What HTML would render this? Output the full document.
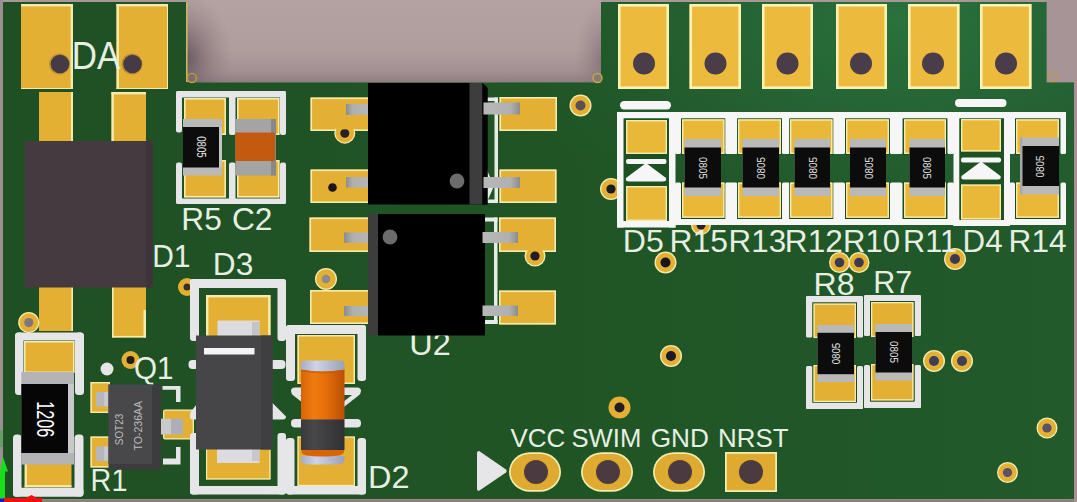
<!DOCTYPE html>
<html><head><meta charset="utf-8"><style>
html,body{margin:0;padding:0;background:#a8989a;}
svg{display:block}
text{font-family:"Liberation Sans",sans-serif;}
</style></head><body>
<svg width="1077" height="502" viewBox="0 0 1077 502">
<defs>
<linearGradient id="bgv" x1="0" y1="0" x2="0" y2="1"><stop offset="0" stop-color="#b4a1a1"/><stop offset="0.6" stop-color="#b09d9e"/><stop offset="0.85" stop-color="#a39092"/><stop offset="1" stop-color="#8c7a7f"/></linearGradient>
<radialGradient id="bgh" gradientUnits="userSpaceOnUse" cx="182" cy="58" r="1" gradientTransform="translate(182,58) scale(52,66) translate(-182,-58)"><stop offset="0" stop-color="#584854" stop-opacity="0.9"/><stop offset="0.4" stop-color="#68585f" stop-opacity="0.5"/><stop offset="1" stop-color="#8d7c80" stop-opacity="0"/></radialGradient>
<radialGradient id="bgr" gradientUnits="userSpaceOnUse" cx="604" cy="60" r="1" gradientTransform="translate(604,60) scale(30,60) translate(-604,-60)"><stop offset="0" stop-color="#6a5a64" stop-opacity="0.6"/><stop offset="1" stop-color="#8d7c80" stop-opacity="0"/></radialGradient>
<linearGradient id="brd" x1="0" y1="0" x2="1" y2="0"><stop offset="0" stop-color="#1f5024"/><stop offset="0.5" stop-color="#205425"/><stop offset="1" stop-color="#225a2b"/></linearGradient>
<radialGradient id="hl" gradientUnits="userSpaceOnUse" cx="900" cy="20" r="1" gradientTransform="translate(900,20) scale(420,230) translate(-900,-20)"><stop offset="0" stop-color="#2c7a44" stop-opacity="0.75"/><stop offset="0.45" stop-color="#2a7040" stop-opacity="0.45"/><stop offset="1" stop-color="#246030" stop-opacity="0"/></radialGradient>
<linearGradient id="melf" x1="0" y1="0" x2="1" y2="0"><stop offset="0" stop-color="#d86408"/><stop offset="0.3" stop-color="#f07c10"/><stop offset="0.6" stop-color="#e46c08"/><stop offset="1" stop-color="#b85004"/></linearGradient>
<linearGradient id="melfd" x1="0" y1="0" x2="1" y2="0"><stop offset="0" stop-color="#3a3a3c"/><stop offset="0.3" stop-color="#48484a"/><stop offset="1" stop-color="#303032"/></linearGradient>
<linearGradient id="cap" x1="0" y1="0" x2="1" y2="0"><stop offset="0" stop-color="#a8acc4"/><stop offset="0.35" stop-color="#cfd3e8"/><stop offset="1" stop-color="#9ca0b8"/></linearGradient>
<linearGradient id="lead" x1="0" y1="0" x2="1" y2="0"><stop offset="0" stop-color="#b8b8b8"/><stop offset="0.75" stop-color="#b0b0b0"/><stop offset="1" stop-color="#8c8c8c"/></linearGradient>
<linearGradient id="leadL" x1="1" y1="0" x2="0" y2="0"><stop offset="0" stop-color="#b8b8b8"/><stop offset="0.75" stop-color="#b0b0b0"/><stop offset="1" stop-color="#8c8c8c"/></linearGradient>
</defs>
<rect x="0.00" y="0.00" width="1077.00" height="502.00" fill="#a89898" />
<rect x="187.00" y="0.00" width="415.00" height="84.00" fill="url(#bgv)" />
<rect x="187.00" y="0.00" width="415.00" height="84.00" fill="url(#bgh)" />
<rect x="187.00" y="0.00" width="415.00" height="84.00" fill="url(#bgr)" />
<rect x="1046.00" y="0.00" width="31.00" height="84.00" fill="#a69496" />
<path d="M3,2 H187 V82.5 H601 V2 H1046.5 V82.5 H1074 V499 H3 Z" fill="url(#brd)"/>
<path d="M3,2 H187 V82.5 H601 V2 H1046.5 V82.5 H1074 V499 H3 Z" fill="url(#hl)"/>
<rect x="186.00" y="2.00" width="1.60" height="80.00" fill="#c8b860" />
<circle cx="192" cy="78" r="4.5" fill="none" stroke="#b89a30" stroke-width="1.6"/>
<circle cx="597.5" cy="78" r="4.5" fill="#8a7a70" stroke="#c0a850" stroke-width="1.4"/>
<circle cx="1053" cy="77" r="4.5" fill="none" stroke="#b89a50" stroke-width="1.3"/>
<rect x="0.00" y="499.50" width="1077.00" height="2.50" fill="#8a7f78" />
<rect x="0.00" y="0.00" width="3.00" height="502.00" fill="#9a9090" />
<rect x="1074.00" y="82.00" width="3.00" height="420.00" fill="#a89098" />
<rect x="21.00" y="4.00" width="52.00" height="85.00" fill="#e3b033" />
<rect x="21.00" y="4.00" width="52.00" height="2.40" fill="#f3ecae" />
<rect x="70.60" y="4.00" width="2.40" height="85.00" fill="#f3ecae" />
<rect x="116.50" y="4.00" width="51.50" height="85.00" fill="#e3b033" />
<rect x="116.50" y="4.00" width="51.50" height="2.40" fill="#f3ecae" />
<rect x="116.50" y="4.00" width="2.40" height="85.00" fill="#f3ecae" />
<rect x="21.00" y="88.00" width="52.00" height="1.00" fill="#f3ecae" />
<rect x="116.50" y="88.00" width="51.50" height="1.00" fill="#f3ecae" />
<rect x="167.00" y="4.00" width="1.00" height="85.00" fill="#f3ecae" />
<circle cx="59.5" cy="64" r="10.5" fill="#b89030"/>
<circle cx="60.0" cy="64" r="9.3" fill="#473a47"/>
<circle cx="132" cy="64" r="10.5" fill="#b89030"/>
<circle cx="132.5" cy="64" r="9.3" fill="#473a47"/>
<rect x="39.00" y="92.00" width="34.00" height="49.00" fill="#e3b033" />
<rect x="71.00" y="92.00" width="2.00" height="49.00" fill="#f3ecae" />
<rect x="111.50" y="92.00" width="34.50" height="49.00" fill="#e3b033" />
<rect x="111.50" y="92.00" width="34.50" height="2.40" fill="#f3ecae" />
<rect x="111.50" y="92.00" width="2.40" height="49.00" fill="#f3ecae" />
<rect x="39.00" y="287.00" width="34.00" height="44.00" fill="#e3b033" />
<rect x="71.40" y="287.00" width="1.60" height="44.00" fill="#f3ecae" />
<rect x="112.00" y="287.00" width="34.00" height="50.50" fill="#e3b033" />
<rect x="112.00" y="335.90" width="34.00" height="1.60" fill="#f3ecae" />
<rect x="112.00" y="287.00" width="1.60" height="50.50" fill="#f3ecae" />
<rect x="143.50" y="310.00" width="2.50" height="27.50" fill="#f3ecae" />
<rect x="24.50" y="141.00" width="128.50" height="146.50" fill="#453a3f" />
<rect x="146.00" y="141.00" width="7.00" height="146.50" fill="#3f3439" />
<rect x="618.00" y="4.00" width="51.00" height="85.00" fill="#ecba3c" />
<rect x="618.00" y="4.00" width="51.00" height="85.00" fill="#f8f2b4" />
<rect x="620.60" y="6.60" width="45.80" height="79.80" fill="#ecba3c" />
<circle cx="644" cy="63.5" r="11" fill="#4a3c48"/>
<rect x="689.50" y="4.00" width="51.50" height="85.00" fill="#ecba3c" />
<rect x="689.50" y="4.00" width="51.50" height="85.00" fill="#f8f2b4" />
<rect x="692.10" y="6.60" width="46.30" height="79.80" fill="#ecba3c" />
<circle cx="715.5" cy="63.5" r="11" fill="#4a3c48"/>
<rect x="762.00" y="4.00" width="51.00" height="85.00" fill="#ecba3c" />
<rect x="762.00" y="4.00" width="51.00" height="85.00" fill="#f8f2b4" />
<rect x="764.60" y="6.60" width="45.80" height="79.80" fill="#ecba3c" />
<circle cx="787.5" cy="63.5" r="11" fill="#4a3c48"/>
<rect x="836.00" y="4.00" width="51.00" height="85.00" fill="#ecba3c" />
<rect x="836.00" y="4.00" width="51.00" height="85.00" fill="#f8f2b4" />
<rect x="838.60" y="6.60" width="45.80" height="79.80" fill="#ecba3c" />
<circle cx="861" cy="63.5" r="11" fill="#4a3c48"/>
<rect x="908.00" y="4.00" width="51.50" height="85.00" fill="#ecba3c" />
<rect x="908.00" y="4.00" width="51.50" height="85.00" fill="#f8f2b4" />
<rect x="910.60" y="6.60" width="46.30" height="79.80" fill="#ecba3c" />
<circle cx="933" cy="63.5" r="11" fill="#4a3c48"/>
<rect x="980.00" y="4.00" width="51.50" height="85.00" fill="#ecba3c" />
<rect x="980.00" y="4.00" width="51.50" height="85.00" fill="#f8f2b4" />
<rect x="982.60" y="6.60" width="46.30" height="79.80" fill="#ecba3c" />
<circle cx="1006" cy="63.5" r="11" fill="#4a3c48"/>
<circle cx="28.8" cy="322.6" r="10.6" fill="#f3ecae"/>
<circle cx="28.8" cy="322.6" r="9.299999999999999" fill="#e3b033"/>
<circle cx="28.8" cy="322.6" r="4.6" fill="#80767e"/>
<circle cx="130.5" cy="360" r="9" fill="#e3b033"/>
<circle cx="130.5" cy="360" r="4" fill="#221c1c"/>
<circle cx="187" cy="287" r="9" fill="#e3b033"/>
<circle cx="187" cy="287" r="3.5" fill="#3a3020"/>
<circle cx="326" cy="279" r="11" fill="#f3ecae"/>
<circle cx="326" cy="279" r="9.7" fill="#e3b033"/>
<circle cx="326" cy="279" r="4.2" fill="#8a8890"/>
<circle cx="580.5" cy="105.5" r="11" fill="#f3ecae"/>
<circle cx="580.5" cy="105.5" r="9.7" fill="#e3b033"/>
<circle cx="580.5" cy="105.5" r="5" fill="#5a5058"/>
<circle cx="611" cy="189" r="11" fill="#f3ecae"/>
<circle cx="611" cy="189" r="9.7" fill="#e3b033"/>
<circle cx="611" cy="189" r="4.6" fill="#1a1a22"/>
<circle cx="665.5" cy="262.5" r="11" fill="#f3ecae"/>
<circle cx="665.5" cy="262.5" r="9.7" fill="#e3b033"/>
<circle cx="665.5" cy="262.5" r="5" fill="#16161e"/>
<circle cx="701" cy="225" r="10" fill="#f3ecae"/>
<circle cx="701" cy="225" r="8.7" fill="#e3b033"/>
<circle cx="701" cy="225" r="4.5" fill="#222230"/>
<circle cx="839.5" cy="262.5" r="10.5" fill="#f3ecae"/>
<circle cx="839.5" cy="262.5" r="9.2" fill="#e3b033"/>
<circle cx="839.5" cy="262.5" r="4.8" fill="#3a3a55"/>
<circle cx="859" cy="262.5" r="10.5" fill="#f3ecae"/>
<circle cx="859" cy="262.5" r="9.2" fill="#e3b033"/>
<circle cx="859" cy="262.5" r="4.8" fill="#3a3a55"/>
<circle cx="955" cy="259" r="11" fill="#f3ecae"/>
<circle cx="955" cy="259" r="9.7" fill="#e3b033"/>
<circle cx="955" cy="259" r="5" fill="#3a3a55"/>
<circle cx="934" cy="361" r="11" fill="#f3ecae"/>
<circle cx="934" cy="361" r="9.7" fill="#e3b033"/>
<circle cx="934" cy="361" r="5" fill="#3e3e58"/>
<circle cx="962" cy="361" r="11" fill="#f3ecae"/>
<circle cx="962" cy="361" r="9.7" fill="#e3b033"/>
<circle cx="962" cy="361" r="5" fill="#3e3e58"/>
<circle cx="671" cy="356" r="11" fill="#f3ecae"/>
<circle cx="671" cy="356" r="9.7" fill="#e3b033"/>
<circle cx="671" cy="356" r="5" fill="#1c1a2a"/>
<circle cx="619.5" cy="407.5" r="11" fill="#e3b033"/>
<circle cx="619.5" cy="407.5" r="5" fill="#221c2a"/>
<circle cx="1047" cy="428" r="10.5" fill="#f3ecae"/>
<circle cx="1047" cy="428" r="9.2" fill="#e3b033"/>
<circle cx="1047" cy="428" r="4.6" fill="#5a5068"/>
<circle cx="1007.5" cy="472.5" r="10.5" fill="#f3ecae"/>
<circle cx="1007.5" cy="472.5" r="9.2" fill="#e3b033"/>
<circle cx="1007.5" cy="472.5" r="4.6" fill="#5a5068"/>
<rect x="184.00" y="98.00" width="42.00" height="37.00" fill="#e3b033" />
<rect x="184.00" y="98.00" width="42.00" height="37.00" fill="#f3ecae" />
<rect x="185.60" y="99.60" width="38.80" height="33.80" fill="#e3b033" />
<rect x="237.00" y="98.00" width="42.50" height="37.00" fill="#e3b033" />
<rect x="237.00" y="98.00" width="42.50" height="37.00" fill="#f3ecae" />
<rect x="238.60" y="99.60" width="39.30" height="33.80" fill="#e3b033" />
<rect x="184.00" y="160.00" width="42.00" height="37.50" fill="#e3b033" />
<rect x="184.00" y="160.00" width="42.00" height="37.50" fill="#f3ecae" />
<rect x="185.60" y="161.60" width="38.80" height="34.30" fill="#e3b033" />
<rect x="237.00" y="160.00" width="42.50" height="37.50" fill="#e3b033" />
<rect x="237.00" y="160.00" width="42.50" height="37.50" fill="#f3ecae" />
<rect x="238.60" y="161.60" width="39.30" height="34.30" fill="#e3b033" />
<rect x="176" y="91" width="110" height="6.5" fill="#e6e6e8" rx="2"/>
<rect x="176" y="91" width="6" height="41.5" fill="#e6e6e8" rx="2"/>
<rect x="229" y="91" width="6.5" height="44" fill="#e6e6e8" rx="2"/>
<rect x="280" y="91" width="6" height="44" fill="#e6e6e8" rx="2"/>
<rect x="176" y="162.5" width="6" height="41.5" fill="#e6e6e8" rx="2"/>
<rect x="229" y="162.5" width="6.5" height="41.5" fill="#e6e6e8" rx="2"/>
<rect x="280" y="162.5" width="6" height="41.5" fill="#e6e6e8" rx="2"/>
<rect x="176" y="198.5" width="110" height="5.5" fill="#e6e6e8" rx="2"/>
<rect x="183.00" y="119.00" width="39.00" height="56.50" fill="#b9b9b9" />
<rect x="183.00" y="127.00" width="36.00" height="40.50" fill="#0c0c0c" />
<rect x="219.00" y="127.00" width="3.00" height="40.50" fill="#c4c4c4" />
<text transform="translate(201.5,147) rotate(90)" x="-10.75" y="4.50" font-size="12.5" fill="#e8e8e8" textLength="21.5" lengthAdjust="spacingAndGlyphs">0805</text>
<rect x="235.50" y="119.00" width="40.50" height="56.50" fill="#a4a4a4" />
<rect x="271.00" y="119.00" width="5.00" height="56.50" fill="#888888" />
<rect x="235.50" y="132.50" width="39.50" height="28.50" fill="#c45a10" />
<text x="181.3" y="230.4" font-size="31" fill="#e6efe2" textLength="40.5" lengthAdjust="spacingAndGlyphs" >R5</text>
<text x="232" y="230.4" font-size="31" fill="#e6efe2" textLength="40.5" lengthAdjust="spacingAndGlyphs" >C2</text>
<rect x="310.50" y="97.50" width="61.50" height="33.50" fill="#e3b033" />
<rect x="310.50" y="97.50" width="61.50" height="33.50" fill="#f3ecae" />
<rect x="312.10" y="99.10" width="58.30" height="30.30" fill="#e3b033" />
<circle cx="344.8" cy="133.2" r="10.5" fill="#f3ecae"/>
<circle cx="344.8" cy="133.2" r="9.2" fill="#e3b033"/>
<circle cx="344.8" cy="133.2" r="4.5" fill="#2a2028"/>
<rect x="335.60" y="120.00" width="18.40" height="9.40" fill="#e3b033" />
<rect x="310.50" y="169.50" width="61.50" height="33.50" fill="#e3b033" />
<rect x="310.50" y="169.50" width="61.50" height="33.50" fill="#f3ecae" />
<rect x="312.10" y="171.10" width="58.30" height="30.30" fill="#e3b033" />
<circle cx="332.5" cy="187.5" r="4.3" fill="#1c1418"/>
<rect x="309.50" y="217.50" width="70.50" height="34.50" fill="#e3b033" />
<rect x="309.50" y="217.50" width="70.50" height="34.50" fill="#f3ecae" />
<rect x="311.10" y="219.10" width="67.30" height="31.30" fill="#e3b033" />
<rect x="310.00" y="290.00" width="70.00" height="34.00" fill="#e3b033" />
<rect x="310.00" y="290.00" width="70.00" height="34.00" fill="#f3ecae" />
<rect x="311.60" y="291.60" width="66.80" height="30.80" fill="#e3b033" />
<rect x="499.50" y="97.00" width="57.50" height="34.00" fill="#e3b033" />
<rect x="499.50" y="97.00" width="57.50" height="34.00" fill="#f3ecae" />
<rect x="501.10" y="98.60" width="54.30" height="30.80" fill="#e3b033" />
<rect x="499.50" y="169.50" width="57.00" height="33.50" fill="#e3b033" />
<rect x="499.50" y="169.50" width="57.00" height="33.50" fill="#f3ecae" />
<rect x="501.10" y="171.10" width="53.80" height="30.30" fill="#e3b033" />
<rect x="499.00" y="217.50" width="57.00" height="34.50" fill="#e3b033" />
<rect x="499.00" y="217.50" width="57.00" height="34.50" fill="#f3ecae" />
<rect x="500.60" y="219.10" width="53.80" height="31.30" fill="#e3b033" />
<circle cx="535" cy="256" r="10.5" fill="#f3ecae"/>
<circle cx="535" cy="256" r="9.2" fill="#e3b033"/>
<circle cx="535" cy="256" r="4.6" fill="#241c28"/>
<rect x="526.00" y="240.00" width="18.00" height="10.40" fill="#e3b033" />
<rect x="499.00" y="290.50" width="57.00" height="34.00" fill="#e3b033" />
<rect x="499.00" y="290.50" width="57.00" height="34.00" fill="#f3ecae" />
<rect x="500.60" y="292.10" width="53.80" height="30.80" fill="#e3b033" />
<rect x="494.50" y="97.50" width="3.50" height="105.50" fill="#e8ece8" />
<rect x="486.00" y="97.50" width="12.00" height="3.50" fill="#e8ece8" />
<rect x="486.00" y="199.50" width="12.00" height="3.50" fill="#e8ece8" />
<rect x="494.00" y="217.50" width="3.50" height="106.50" fill="#e8ece8" />
<rect x="484.00" y="217.50" width="13.50" height="4.00" fill="#e8ece8" />
<rect x="484.00" y="320.00" width="13.50" height="4.00" fill="#e8ece8" />
<path d="M487,170 L494,186 L487,202 Z" fill="#e8ece8"/>
<rect x="346.00" y="104.00" width="26.00" height="11.00" fill="url(#leadL)" />
<rect x="346.00" y="177.00" width="26.00" height="10.50" fill="url(#leadL)" />
<rect x="344.00" y="232.50" width="36.00" height="10.50" fill="url(#leadL)" />
<rect x="344.00" y="306.00" width="36.00" height="10.00" fill="url(#leadL)" />
<rect x="368.00" y="83.00" width="119.50" height="121.50" fill="#000" />
<rect x="469.50" y="83.00" width="13.00" height="121.50" fill="#3d3d3d" />
<path d="M482.5,83 L487.5,88 V204.5 H482.5 Z" fill="#050505"/>
<path d="M482.5,83 H488 V88 Z" fill="#205424"/>
<circle cx="457" cy="181" r="7.4" fill="#6c6c6c"/>
<rect x="368.00" y="214.00" width="117.00" height="121.00" fill="#000" />
<rect x="368.00" y="214.00" width="10.00" height="121.00" fill="#3d3d3d" />
<circle cx="390" cy="237" r="7.4" fill="#6c6c6c"/>
<rect x="483.50" y="102.50" width="36.50" height="12.00" fill="url(#lead)" />
<rect x="483.50" y="177.00" width="36.50" height="11.00" fill="url(#lead)" />
<rect x="482.50" y="232.00" width="35.50" height="11.00" fill="url(#lead)" />
<rect x="482.50" y="305.50" width="35.50" height="10.50" fill="url(#lead)" />
<text x="409.3" y="355.2" font-size="31" fill="#e6efe2" textLength="41.5" lengthAdjust="spacingAndGlyphs" >U2</text>
<rect x="378.00" y="326.00" width="107.00" height="9.50" fill="#000" />
<rect x="675" y="112" width="6" height="42" fill="#f6f6f6" rx="1.5"/>
<rect x="675" y="182.5" width="6" height="42.5" fill="#f6f6f6" rx="1.5"/>
<rect x="725" y="112" width="12.5" height="42" fill="#f6f6f6" rx="1.5"/>
<rect x="725" y="182.5" width="12.5" height="42.5" fill="#f6f6f6" rx="1.5"/>
<rect x="782" y="112" width="8" height="42" fill="#f6f6f6" rx="1.5"/>
<rect x="782" y="182.5" width="8" height="42.5" fill="#f6f6f6" rx="1.5"/>
<rect x="832.5" y="112" width="12.5" height="42" fill="#f6f6f6" rx="1.5"/>
<rect x="832.5" y="182.5" width="12.5" height="42.5" fill="#f6f6f6" rx="1.5"/>
<rect x="890" y="112" width="12.5" height="42" fill="#f6f6f6" rx="1.5"/>
<rect x="890" y="182.5" width="12.5" height="42.5" fill="#f6f6f6" rx="1.5"/>
<rect x="947.5" y="112" width="6.5" height="42" fill="#f6f6f6" rx="1.5"/>
<rect x="947.5" y="182.5" width="6.5" height="42.5" fill="#f6f6f6" rx="1.5"/>
<rect x="1009.5" y="112" width="5.5" height="42" fill="#f6f6f6" rx="1.5"/>
<rect x="1009.5" y="182.5" width="5.5" height="42.5" fill="#f6f6f6" rx="1.5"/>
<rect x="1060.5" y="112" width="5.5" height="42" fill="#f6f6f6" rx="1.5"/>
<rect x="1060.5" y="182.5" width="5.5" height="42.5" fill="#f6f6f6" rx="1.5"/>
<rect x="617.00" y="112.00" width="6.50" height="115.50" fill="#f6f6f6" />
<rect x="669.00" y="112.00" width="6.50" height="115.50" fill="#f6f6f6" />
<rect x="953.50" y="112.00" width="6.00" height="114.00" fill="#f6f6f6" />
<rect x="1004.00" y="112.00" width="6.00" height="114.00" fill="#f6f6f6" />
<rect x="617.00" y="112.00" width="449.00" height="6.50" fill="#f6f6f6" />
<rect x="675.00" y="219.00" width="391.00" height="6.00" fill="#f6f6f6" />
<rect x="617.00" y="221.00" width="58.50" height="6.50" fill="#f6f6f6" />
<rect x="953.50" y="220.00" width="56.50" height="6.00" fill="#f6f6f6" />
<rect x="681.20" y="118.50" width="44.10" height="36.50" fill="#1b4a20" />
<rect x="681.20" y="181.50" width="44.10" height="37.50" fill="#1b4a20" />
<rect x="682.00" y="119.30" width="42.50" height="34.70" fill="#eab838" />
<rect x="682.00" y="119.30" width="42.50" height="34.70" fill="#f3ecae" />
<rect x="683.40" y="120.70" width="39.70" height="31.90" fill="#eab838" />
<rect x="682.00" y="182.50" width="42.50" height="35.30" fill="#eab838" />
<rect x="682.00" y="182.50" width="42.50" height="35.30" fill="#f3ecae" />
<rect x="683.40" y="183.90" width="39.70" height="32.50" fill="#eab838" />
<rect x="737.20" y="118.50" width="44.60" height="36.50" fill="#1b4a20" />
<rect x="737.20" y="181.50" width="44.60" height="37.50" fill="#1b4a20" />
<rect x="738.00" y="119.30" width="43.00" height="34.70" fill="#eab838" />
<rect x="738.00" y="119.30" width="43.00" height="34.70" fill="#f3ecae" />
<rect x="739.40" y="120.70" width="40.20" height="31.90" fill="#eab838" />
<rect x="738.00" y="182.50" width="43.00" height="35.30" fill="#eab838" />
<rect x="738.00" y="182.50" width="43.00" height="35.30" fill="#f3ecae" />
<rect x="739.40" y="183.90" width="40.20" height="32.50" fill="#eab838" />
<rect x="789.20" y="118.50" width="44.10" height="36.50" fill="#1b4a20" />
<rect x="789.20" y="181.50" width="44.10" height="37.50" fill="#1b4a20" />
<rect x="790.00" y="119.30" width="42.50" height="34.70" fill="#eab838" />
<rect x="790.00" y="119.30" width="42.50" height="34.70" fill="#f3ecae" />
<rect x="791.40" y="120.70" width="39.70" height="31.90" fill="#eab838" />
<rect x="790.00" y="182.50" width="42.50" height="35.30" fill="#eab838" />
<rect x="790.00" y="182.50" width="42.50" height="35.30" fill="#f3ecae" />
<rect x="791.40" y="183.90" width="39.70" height="32.50" fill="#eab838" />
<rect x="845.20" y="118.50" width="44.60" height="36.50" fill="#1b4a20" />
<rect x="845.20" y="181.50" width="44.60" height="37.50" fill="#1b4a20" />
<rect x="846.00" y="119.30" width="43.00" height="34.70" fill="#eab838" />
<rect x="846.00" y="119.30" width="43.00" height="34.70" fill="#f3ecae" />
<rect x="847.40" y="120.70" width="40.20" height="31.90" fill="#eab838" />
<rect x="846.00" y="182.50" width="43.00" height="35.30" fill="#eab838" />
<rect x="846.00" y="182.50" width="43.00" height="35.30" fill="#f3ecae" />
<rect x="847.40" y="183.90" width="40.20" height="32.50" fill="#eab838" />
<rect x="903.20" y="118.50" width="43.60" height="36.50" fill="#1b4a20" />
<rect x="903.20" y="181.50" width="43.60" height="37.50" fill="#1b4a20" />
<rect x="904.00" y="119.30" width="42.00" height="34.70" fill="#eab838" />
<rect x="904.00" y="119.30" width="42.00" height="34.70" fill="#f3ecae" />
<rect x="905.40" y="120.70" width="39.20" height="31.90" fill="#eab838" />
<rect x="904.00" y="182.50" width="42.00" height="35.30" fill="#eab838" />
<rect x="904.00" y="182.50" width="42.00" height="35.30" fill="#f3ecae" />
<rect x="905.40" y="183.90" width="39.20" height="32.50" fill="#eab838" />
<rect x="1015.20" y="118.50" width="44.60" height="36.50" fill="#1b4a20" />
<rect x="1015.20" y="181.50" width="44.60" height="37.50" fill="#1b4a20" />
<rect x="1016.00" y="119.30" width="43.00" height="34.70" fill="#eab838" />
<rect x="1016.00" y="119.30" width="43.00" height="34.70" fill="#f3ecae" />
<rect x="1017.40" y="120.70" width="40.20" height="31.90" fill="#eab838" />
<rect x="1016.00" y="182.50" width="43.00" height="35.30" fill="#eab838" />
<rect x="1016.00" y="182.50" width="43.00" height="35.30" fill="#f3ecae" />
<rect x="1017.40" y="183.90" width="40.20" height="32.50" fill="#eab838" />
<rect x="684.50" y="139.00" width="36.50" height="57.00" fill="#b9b9b9" />
<rect x="684.50" y="147.50" width="36.50" height="40.00" fill="#0c0c0c" />
<text transform="translate(703,168) rotate(90)" x="-11.0" y="4.07" font-size="11.3" fill="#e4e4e4" textLength="22" lengthAdjust="spacingAndGlyphs">0805</text>
<rect x="742.50" y="139.00" width="36.50" height="57.00" fill="#b9b9b9" />
<rect x="742.50" y="147.50" width="36.50" height="40.00" fill="#0c0c0c" />
<text transform="translate(761,168) rotate(-90)" x="-11.0" y="4.07" font-size="11.3" fill="#e4e4e4" textLength="22" lengthAdjust="spacingAndGlyphs">0805</text>
<rect x="794.50" y="139.00" width="35.50" height="57.00" fill="#b9b9b9" />
<rect x="794.50" y="147.50" width="35.50" height="40.00" fill="#0c0c0c" />
<text transform="translate(812.5,168) rotate(-90)" x="-11.0" y="4.07" font-size="11.3" fill="#e4e4e4" textLength="22" lengthAdjust="spacingAndGlyphs">0805</text>
<rect x="850.00" y="139.00" width="36.00" height="57.00" fill="#b9b9b9" />
<rect x="850.00" y="147.50" width="36.00" height="40.00" fill="#0c0c0c" />
<text transform="translate(869,168) rotate(-90)" x="-11.0" y="4.07" font-size="11.3" fill="#e4e4e4" textLength="22" lengthAdjust="spacingAndGlyphs">0805</text>
<rect x="909.50" y="139.00" width="35.50" height="57.00" fill="#b9b9b9" />
<rect x="909.50" y="147.50" width="35.50" height="40.00" fill="#0c0c0c" />
<text transform="translate(927,168) rotate(90)" x="-11.0" y="4.07" font-size="11.3" fill="#e4e4e4" textLength="22" lengthAdjust="spacingAndGlyphs">0805</text>
<rect x="1020.00" y="137.50" width="3.00" height="57.00" fill="#a8a8a8" />
<rect x="1022.50" y="137.50" width="36.50" height="57.00" fill="#b9b9b9" />
<rect x="1022.50" y="146.00" width="36.50" height="40.00" fill="#0c0c0c" />
<text transform="translate(1040,166.5) rotate(-90)" x="-11.0" y="4.07" font-size="11.3" fill="#e4e4e4" textLength="22" lengthAdjust="spacingAndGlyphs">0805</text>
<rect x="624.00" y="118.50" width="45.00" height="102.50" fill="#1d5022" />
<rect x="626.00" y="120.00" width="41.00" height="34.00" fill="#eab838" />
<rect x="626.00" y="120.00" width="41.00" height="34.00" fill="#f3ecae" />
<rect x="627.40" y="121.40" width="38.20" height="31.20" fill="#eab838" />
<rect x="626.00" y="186.00" width="41.00" height="35.00" fill="#eab838" />
<rect x="626.00" y="186.00" width="41.00" height="35.00" fill="#f3ecae" />
<rect x="627.40" y="187.40" width="38.20" height="32.20" fill="#eab838" />
<rect x="626" y="159" width="40.5" height="5" rx="2" fill="#f6f6f6"/>
<path d="M646,163 L666,178 Q667,181.5 663,181.5 H629 Q625,181.5 626,178 Z" fill="#f6f6f6"/>
<rect x="620" y="101" width="51" height="8.5" rx="4.2" fill="#f6f6f6"/>
<rect x="959.50" y="118.50" width="44.50" height="101.50" fill="#1d5022" />
<rect x="961.00" y="119.00" width="40.00" height="32.50" fill="#eab838" />
<rect x="961.00" y="119.00" width="40.00" height="32.50" fill="#f3ecae" />
<rect x="962.40" y="120.40" width="37.20" height="29.70" fill="#eab838" />
<rect x="961.00" y="184.50" width="40.00" height="35.00" fill="#eab838" />
<rect x="961.00" y="184.50" width="40.00" height="35.00" fill="#f3ecae" />
<rect x="962.40" y="185.90" width="37.20" height="32.20" fill="#eab838" />
<rect x="961" y="157.5" width="40" height="5" rx="2" fill="#f6f6f6"/>
<path d="M981,161.5 L1000.5,176 Q1001.5,179.5 998,179.5 H964 Q960.5,179.5 961.5,176 Z" fill="#f6f6f6"/>
<rect x="955" y="99" width="51.5" height="8" rx="4" fill="#f6f6f6"/>
<text x="622.8" y="251.7" font-size="31.2" fill="#e6efe2" textLength="41" lengthAdjust="spacingAndGlyphs" >D5</text>
<text x="669.4" y="251.7" font-size="31.2" fill="#e6efe2" textLength="58.5" lengthAdjust="spacingAndGlyphs" >R15</text>
<text x="728.6" y="251.7" font-size="31.2" fill="#e6efe2" textLength="57.5" lengthAdjust="spacingAndGlyphs" >R13</text>
<text x="784.8" y="251.7" font-size="31.2" fill="#e6efe2" textLength="58" lengthAdjust="spacingAndGlyphs" >R12</text>
<text x="843" y="251.7" font-size="31.2" fill="#e6efe2" textLength="57" lengthAdjust="spacingAndGlyphs" >R10</text>
<text x="903" y="251.7" font-size="31.2" fill="#e6efe2" textLength="54" lengthAdjust="spacingAndGlyphs" >R11</text>
<text x="962.6" y="251.7" font-size="31.2" fill="#e6efe2" textLength="40" lengthAdjust="spacingAndGlyphs" >D4</text>
<text x="1008.6" y="251.7" font-size="31.2" fill="#e6efe2" textLength="58" lengthAdjust="spacingAndGlyphs" >R14</text>
<rect x="806" y="296" width="57" height="6.5" fill="#e6e6e8" rx="1.5"/>
<rect x="806" y="296" width="6.5" height="41.5" fill="#e6e6e8" rx="1.5"/>
<rect x="857" y="296" width="6" height="41.5" fill="#e6e6e8" rx="1.5"/>
<rect x="806" y="366" width="6.5" height="43" fill="#e6e6e8" rx="1.5"/>
<rect x="857" y="366" width="6" height="43" fill="#e6e6e8" rx="1.5"/>
<rect x="806" y="402.5" width="57" height="6.5" fill="#e6e6e8" rx="1.5"/>
<rect x="864" y="295" width="57" height="6" fill="#e6e6e8" rx="1.5"/>
<rect x="864" y="295" width="6" height="41" fill="#e6e6e8" rx="1.5"/>
<rect x="914.5" y="295" width="6.5" height="41" fill="#e6e6e8" rx="1.5"/>
<rect x="864" y="365" width="6" height="43" fill="#e6e6e8" rx="1.5"/>
<rect x="914.5" y="365" width="6.5" height="43" fill="#e6e6e8" rx="1.5"/>
<rect x="864" y="401.5" width="57" height="6.5" fill="#e6e6e8" rx="1.5"/>
<rect x="812.50" y="302.50" width="44.50" height="35.50" fill="#1b4a20" />
<rect x="812.50" y="365.00" width="44.50" height="37.50" fill="#1b4a20" />
<rect x="870.00" y="301.00" width="44.50" height="36.00" fill="#1b4a20" />
<rect x="870.00" y="364.00" width="44.50" height="37.50" fill="#1b4a20" />
<rect x="813.50" y="303.50" width="42.50" height="34.50" fill="#e3b033" />
<rect x="813.50" y="303.50" width="42.50" height="34.50" fill="#f3ecae" />
<rect x="814.80" y="304.80" width="39.90" height="31.90" fill="#e3b033" />
<rect x="813.50" y="365.00" width="42.50" height="37.00" fill="#e3b033" />
<rect x="813.50" y="365.00" width="42.50" height="37.00" fill="#f3ecae" />
<rect x="814.80" y="366.30" width="39.90" height="34.40" fill="#e3b033" />
<rect x="871.00" y="302.00" width="42.50" height="35.00" fill="#e3b033" />
<rect x="871.00" y="302.00" width="42.50" height="35.00" fill="#f3ecae" />
<rect x="872.30" y="303.30" width="39.90" height="32.40" fill="#e3b033" />
<rect x="871.00" y="364.00" width="42.50" height="36.50" fill="#e3b033" />
<rect x="871.00" y="364.00" width="42.50" height="36.50" fill="#f3ecae" />
<rect x="872.30" y="365.30" width="39.90" height="33.90" fill="#e3b033" />
<rect x="817.50" y="325.00" width="36.50" height="57.00" fill="#b9b9b9" />
<rect x="817.50" y="332.80" width="36.50" height="41.40" fill="#0c0c0c" />
<rect x="875.50" y="324.00" width="36.50" height="56.50" fill="#b9b9b9" />
<rect x="875.50" y="332.00" width="36.50" height="40.50" fill="#0c0c0c" />
<text transform="translate(836,353.5) rotate(-90)" x="-10.75" y="4.07" font-size="11.3" fill="#e4e4e4" textLength="21.5" lengthAdjust="spacingAndGlyphs">0805</text>
<text transform="translate(894,352) rotate(90)" x="-11.0" y="4.07" font-size="11.3" fill="#e4e4e4" textLength="22" lengthAdjust="spacingAndGlyphs">0805</text>
<text x="813.6" y="294.5" font-size="31" fill="#e6efe2" textLength="41" lengthAdjust="spacingAndGlyphs" >R8</text>
<text x="873.2" y="292.8" font-size="31" fill="#e6efe2" textLength="39" lengthAdjust="spacingAndGlyphs" >R7</text>
<path d="M479,451 Q477,451 477,453 V489 Q477,491.5 479.5,490.5 L506,472.5 Q507.5,471 506,469.5 L479.5,451.3 Z" fill="#e6e6e8"/>
<rect x="509" y="452.2" width="52" height="39.6" rx="21" ry="19.8" fill="#f3ecae"/>
<rect x="510.7" y="453.9" width="48.6" height="36.2" rx="19.5" ry="18.1" fill="#deaa30"/>
<circle cx="536" cy="472" r="12" fill="#4b3a40"/>
<rect x="581" y="452.2" width="52" height="39.6" rx="21" ry="19.8" fill="#f3ecae"/>
<rect x="582.7" y="453.9" width="48.6" height="36.2" rx="19.5" ry="18.1" fill="#deaa30"/>
<circle cx="608" cy="472" r="12" fill="#4b3a40"/>
<rect x="653" y="452.2" width="52" height="39.6" rx="21" ry="19.8" fill="#f3ecae"/>
<rect x="654.7" y="453.9" width="48.6" height="36.2" rx="19.5" ry="18.1" fill="#deaa30"/>
<circle cx="680" cy="472" r="12" fill="#4b3a40"/>
<rect x="725.00" y="452.00" width="52.00" height="40.00" fill="#deaa30" />
<rect x="725.00" y="452.00" width="52.00" height="40.00" fill="#f3ecae" />
<rect x="726.80" y="453.80" width="48.40" height="36.40" fill="#deaa30" />
<circle cx="751" cy="472" r="12" fill="#4b3a40"/>
<text x="510.5" y="447.2" font-size="26.3" fill="#e6efe2" textLength="54.8" lengthAdjust="spacingAndGlyphs" >VCC</text>
<text x="571.5" y="447.2" font-size="26.3" fill="#e6efe2" textLength="69.8" lengthAdjust="spacingAndGlyphs" >SWIM</text>
<text x="650.7" y="447.2" font-size="26.3" fill="#e6efe2" textLength="58.2" lengthAdjust="spacingAndGlyphs" >GND</text>
<text x="718" y="447.2" font-size="26.3" fill="#e6efe2" textLength="70.5" lengthAdjust="spacingAndGlyphs" >NRST</text>
<rect x="15" y="332.5" width="69" height="8.0" fill="#e6e6e8" rx="3.5"/>
<rect x="15" y="332.5" width="8.5" height="62.5" fill="#e6e6e8" rx="3.5"/>
<rect x="75" y="332.5" width="9" height="62.5" fill="#e6e6e8" rx="3.5"/>
<rect x="13" y="434.5" width="8.5" height="62.30000000000001" fill="#e6e6e8" rx="3.5"/>
<rect x="74.5" y="434.5" width="9.0" height="62.0" fill="#e6e6e8" rx="3.5"/>
<rect x="13" y="487.8" width="70.5" height="9.0" fill="#e6e6e8" rx="3.5"/>
<rect x="24.00" y="341.00" width="50.50" height="32.00" fill="#e3b033" />
<rect x="24.00" y="341.00" width="50.50" height="32.00" fill="#f3ecae" />
<rect x="25.50" y="342.50" width="47.50" height="29.00" fill="#e3b033" />
<rect x="24.70" y="463.00" width="46.80" height="24.30" fill="#e3b033" />
<rect x="24.70" y="485.10" width="46.80" height="2.20" fill="#f3ecae" />
<rect x="24.70" y="463.00" width="2.20" height="24.30" fill="#f3ecae" />
<rect x="21.30" y="372.00" width="52.70" height="92.50" fill="#b4b4b6" />
<rect x="21.30" y="384.00" width="46.70" height="69.00" fill="#060606" />
<rect x="68.00" y="384.00" width="6.00" height="69.00" fill="#c8c8ca" />
<text transform="translate(45.8,419.3) rotate(90)" x="-18.0" y="8.82" font-size="24.5" fill="#fff" textLength="36" lengthAdjust="spacingAndGlyphs">1206</text>
<circle cx="107" cy="369" r="6.5" fill="#e6e6e8"/>
<text x="134" y="378.8" font-size="31" fill="#e6efe2" textLength="39.5" lengthAdjust="spacingAndGlyphs" >Q1</text>
<text x="90.6" y="491.1" font-size="31.5" fill="#e6efe2" textLength="36.8" lengthAdjust="spacingAndGlyphs" >R1</text>
<text x="152.2" y="266.8" font-size="30.5" fill="#e6efe2" textLength="38.3" lengthAdjust="spacingAndGlyphs" >D1</text>
<text x="212.8" y="274.8" font-size="31" fill="#e6efe2" textLength="40.5" lengthAdjust="spacingAndGlyphs" >D3</text>
<text x="71.8" y="68.7" font-size="38.5" fill="#e6efe2" textLength="48.5" lengthAdjust="spacingAndGlyphs" >DA</text>
<text x="368" y="488.1" font-size="32" fill="#e6efe2" textLength="41.5" lengthAdjust="spacingAndGlyphs" >D2</text>
<rect x="90.50" y="382.00" width="19.50" height="31.00" fill="#e3b033" />
<rect x="90.50" y="382.00" width="19.50" height="31.00" fill="#f3ecae" />
<rect x="91.90" y="383.40" width="16.70" height="28.20" fill="#e3b033" />
<rect x="90.50" y="436.50" width="19.50" height="31.00" fill="#e3b033" />
<rect x="90.50" y="436.50" width="19.50" height="31.00" fill="#f3ecae" />
<rect x="91.90" y="437.90" width="16.70" height="28.20" fill="#e3b033" />
<rect x="96.00" y="392.00" width="14.00" height="14.40" fill="#b6b6be" />
<rect x="96.00" y="446.60" width="14.00" height="14.40" fill="#b6b6be" />
<rect x="104.00" y="392.00" width="6.00" height="14.40" fill="#c8c8cc" />
<rect x="104.00" y="446.60" width="6.00" height="14.40" fill="#c8c8cc" />
<rect x="163" y="409.5" width="31" height="30" rx="2" fill="#f3ecae"/>
<rect x="164.30" y="410.80" width="28.40" height="27.40" fill="#e3b033" />
<rect x="159.50" y="418.80" width="23.50" height="15.60" fill="#aeaeb6" />
<rect x="159.50" y="418.80" width="11.50" height="15.60" fill="#cacaca" />
<path d="M162.5,386 H180.5 V402 H176 V389.8 H162.5 Z" fill="#e6e6e8"/>
<path d="M176,447 H180.5 V464.5 H163 V458.5 H176 Z" fill="#e6e6e8"/>
<rect x="108.50" y="384.50" width="52.50" height="85.30" fill="#3c3c3e" />
<rect x="108.50" y="384.50" width="43.50" height="79.50" fill="#48484a" />
<text transform="translate(118.8,429.5) rotate(-90)" x="-15.75" y="4.14" font-size="11.5" fill="#bcbcbc" textLength="31.5" lengthAdjust="spacingAndGlyphs">SOT23</text>
<text transform="translate(137.6,425.7) rotate(-90)" x="-24.75" y="4.14" font-size="11.5" fill="#bcbcbc" textLength="49.5" lengthAdjust="spacingAndGlyphs">TO-236AA</text>
<rect x="190" y="279" width="96" height="9" fill="#e6e6e8" rx="3"/>
<rect x="190" y="279" width="9" height="62" fill="#e6e6e8" rx="3"/>
<rect x="277.5" y="279" width="8.5" height="62" fill="#e6e6e8" rx="3"/>
<rect x="190" y="433" width="9" height="61.5" fill="#e6e6e8" rx="3"/>
<rect x="277.5" y="433" width="8.5" height="61.5" fill="#e6e6e8" rx="3"/>
<rect x="190" y="486" width="96" height="8.5" fill="#e6e6e8" rx="3"/>
<rect x="188.5" y="360" width="10" height="9" rx="4" fill="#e6e6e8"/>
<rect x="270" y="360" width="15.5" height="9" rx="4" fill="#e6e6e8"/>
<path d="M272,402.5 L286,416.5 Q286,419.5 283,419.5 H272 Z" fill="#e6e6e8"/>
<path d="M197,404 L190.5,412 Q189,419.5 192,419.5 H197 Z" fill="#e6e6e8"/>
<rect x="206.00" y="295.00" width="64.50" height="45.00" fill="#e3b033" />
<rect x="206.00" y="295.00" width="64.50" height="45.00" fill="#f3ecae" />
<rect x="208.40" y="297.40" width="59.70" height="40.20" fill="#e3b033" />
<rect x="206.00" y="445.00" width="64.50" height="34.50" fill="#e3b033" />
<rect x="206.00" y="445.00" width="64.50" height="34.50" fill="#f3ecae" />
<rect x="207.20" y="446.20" width="62.10" height="32.10" fill="#e3b033" />
<rect x="217.50" y="320.50" width="42.00" height="15.50" fill="#dcdce0" />
<rect x="252.00" y="322.00" width="7.50" height="14.00" fill="#c4c4c8" />
<rect x="217.00" y="449.00" width="42.50" height="14.00" fill="#dcdce0" />
<rect x="252.00" y="449.00" width="7.50" height="12.00" fill="#c8c8cc" />
<rect x="196.00" y="335.50" width="76.50" height="114.00" fill="#464648" />
<rect x="261.00" y="335.50" width="11.50" height="114.00" fill="#3f3f41" />
<rect x="204.00" y="348.00" width="50.50" height="6.50" fill="#f4f4f4" />
<rect x="286" y="325" width="80" height="9" fill="#e6e6e8" rx="3"/>
<rect x="286" y="325" width="9" height="56" fill="#e6e6e8" rx="3"/>
<rect x="357.5" y="325" width="8.5" height="56" fill="#e6e6e8" rx="3"/>
<rect x="286" y="438" width="8.5" height="56.5" fill="#e6e6e8" rx="3"/>
<rect x="357.5" y="438" width="8.5" height="56.5" fill="#e6e6e8" rx="3"/>
<rect x="286" y="486" width="80" height="8.5" fill="#e6e6e8" rx="3"/>
<rect x="297.50" y="335.00" width="57.50" height="49.00" fill="#e3b033" />
<rect x="297.50" y="335.00" width="57.50" height="49.00" fill="#f3ecae" />
<rect x="299.00" y="336.50" width="54.50" height="46.00" fill="#e3b033" />
<rect x="297.50" y="436.50" width="57.50" height="49.50" fill="#e3b033" />
<rect x="297.50" y="436.50" width="57.50" height="49.50" fill="#f3ecae" />
<rect x="298.70" y="437.70" width="55.10" height="47.10" fill="#e3b033" />
<path d="M291,391 Q291,387.5 295,387.5 H357 Q361,387.5 361,391 Q361,394 358,396 L340,410 H312 L294,396 Q291,394 291,391 Z" fill="#e6e6e8"/>
<path d="M300,395 H352 L338,406 H314 Z" fill="#205424"/>
<rect x="291" y="419" width="70" height="8.5" rx="4" fill="#e6e6e8"/>
<path d="M301,456 H344.5 V460 Q344.5,464.5 336,464.5 H309 Q301,464.5 301,460 Z" fill="url(#cap)"/>
<path d="M301.5,448 H344 V452 Q344,456.5 322.5,456.5 Q301.5,456.5 301.5,452 Z" fill="#d8640a"/>
<rect x="301.00" y="370.00" width="43.50" height="50.00" fill="url(#melf)" />
<rect x="301.00" y="419.50" width="43.50" height="30.50" fill="url(#melfd)" />
<path d="M301,364 Q301,360.5 305,360.5 H340.5 Q344.5,360.5 344.5,364 V369.5 Q322.75,373.5 301,369.5 Z" fill="url(#cap)"/>
<path d="M301,369.5 Q322.75,373.5 344.5,369.5 V371.5 Q322.75,375.5 301,371.5 Z" fill="#c05606" opacity="0.55"/>
<rect x="0.00" y="430.00" width="3.00" height="17.00" fill="#6a9a6a" />
<path d="M0,498.5 V471.5 L3,457 L8,471.5 H5 V498.5 Z" fill="#18e018"/>
<rect x="0.00" y="498.50" width="4.00" height="3.50" fill="#1818d0" />
<path d="M4,498 H26 L31.5,495 L37,498 H42 V502 H4 Z" fill="#f01010"/>
</svg></body></html>
